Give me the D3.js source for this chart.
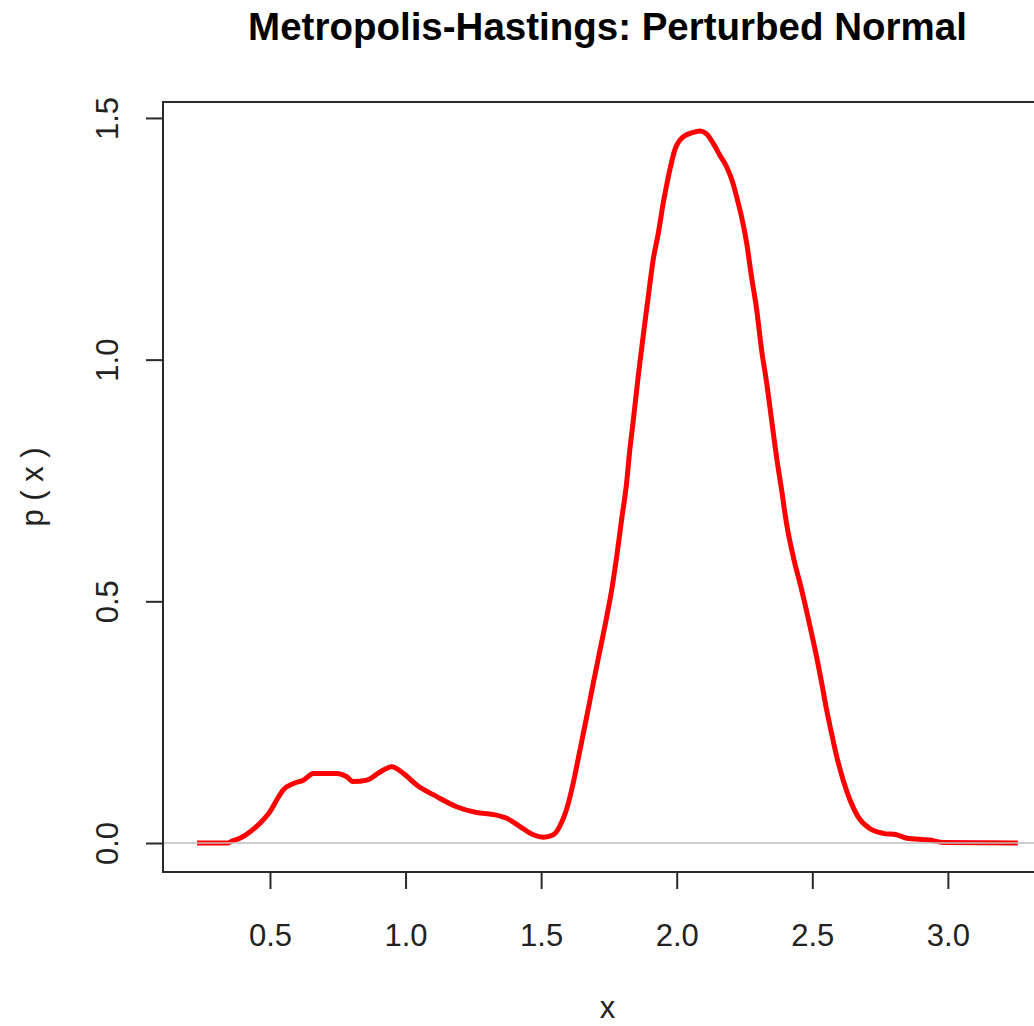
<!DOCTYPE html>
<html>
<head>
<meta charset="utf-8">
<script src="https://cdn.jsdelivr.net/npm/d3@7/dist/d3.min.js"></script>
<style>
  html, body { margin: 0; padding: 0; background: #fff; overflow: hidden; }
  svg { display: block; }
  text { font-family: "Liberation Sans", Arial, sans-serif; }
</style>
</head>
<body>
<svg id="chart" width="1034" height="1026"></svg>
<script>
// ---- Data ----
const xValues = [0.231, 0.345, 0.360, 0.389, 0.426, 0.463, 0.500, 0.525, 0.549, 0.586,
  0.623, 0.660, 0.746, 0.783, 0.807, 0.857, 0.906, 0.949, 0.992, 1.041,
  1.115, 1.188, 1.262, 1.323, 1.373, 1.422, 1.471, 1.508, 1.545, 1.569,
  1.594, 1.618, 1.643, 1.668, 1.692, 1.717, 1.742, 1.760, 1.778, 1.797,
  1.815, 1.827, 1.840, 1.858, 1.876, 1.895, 1.913, 1.932, 1.950, 1.969,
  1.993, 2.024, 2.055, 2.086, 2.110, 2.135, 2.159, 2.184, 2.208, 2.221,
  2.239, 2.258, 2.276, 2.295, 2.313, 2.332, 2.350, 2.368, 2.387, 2.405,
  2.430, 2.461, 2.492, 2.516, 2.535, 2.553, 2.571, 2.590, 2.614, 2.639,
  2.669, 2.712, 2.762, 2.811, 2.848, 2.934, 2.983, 3.258];
const density = [0.000, 0.000, 0.004, 0.010, 0.023, 0.041, 0.065, 0.089, 0.110, 0.123,
  0.130, 0.144, 0.144, 0.137, 0.127, 0.130, 0.147, 0.158, 0.144, 0.120,
  0.096, 0.075, 0.063, 0.059, 0.051, 0.034, 0.017, 0.012, 0.017, 0.035,
  0.070, 0.123, 0.192, 0.261, 0.330, 0.399, 0.468, 0.523, 0.590, 0.670,
  0.744, 0.813, 0.875, 0.965, 1.047, 1.130, 1.206, 1.261, 1.323, 1.378,
  1.434, 1.461, 1.469, 1.473, 1.467, 1.447, 1.423, 1.399, 1.364, 1.337,
  1.296, 1.241, 1.171, 1.103, 1.020, 0.951, 0.875, 0.799, 0.730, 0.661,
  0.592, 0.523, 0.447, 0.385, 0.330, 0.275, 0.227, 0.179, 0.130, 0.089,
  0.054, 0.030, 0.020, 0.017, 0.010, 0.006, 0.001, 0.000];
const xTicks = [0.5, 1.0, 1.5, 2.0, 2.5, 3.0];
const yTicks = [0.0, 0.5, 1.0, 1.5];
const titleText = "Metropolis-Hastings: Perturbed Normal";
const xLabel = "x";
const yLabel = "p ( x )";

// ---- Layout ----
const plot = { left: 163, top: 102, right: 1052, bottom: 872 };
const svg = d3.select("#chart");

const x = d3.scaleLinear().domain([0.1055, 3.384]).range([plot.left, plot.right]);
const y = d3.scaleLinear().domain([-0.06, 1.533]).range([plot.bottom, plot.top]);

// curve
const pts = xValues.map((v, i) => [v, density[i]]);
const line = d3.line().x(d => x(d[0])).y(d => y(d[1])).curve(d3.curveMonotoneX);
svg.append("path")
  .datum(pts)
  .attr("d", line)
  .attr("fill", "none")
  .attr("stroke", "#ff0000")
  .attr("stroke-width", 5)
  .attr("stroke-linejoin", "round")
  .attr("stroke-linecap", "butt");

// horizontal reference line at 0 (drawn on top, as in the original)
svg.append("line")
  .attr("x1", plot.left).attr("x2", plot.right)
  .attr("y1", y(0)).attr("y2", y(0))
  .attr("stroke", "#bebebe")
  .attr("stroke-width", 1.6);

// box
svg.append("rect")
  .attr("x", plot.left).attr("y", plot.top)
  .attr("width", plot.right - plot.left).attr("height", plot.bottom - plot.top)
  .attr("fill", "none").attr("stroke", "#2a2a2a").attr("stroke-width", 2);

// axes
const xAxis = d3.axisBottom(x).tickValues(xTicks).tickFormat(d3.format(".1f"))
  .tickSizeInner(17).tickSizeOuter(0).tickPadding(32);
const gx = svg.append("g").attr("transform", `translate(0,${plot.bottom})`).call(xAxis);
gx.select(".domain").remove();
gx.selectAll(".tick line").attr("stroke", "#2a2a2a").attr("stroke-width", 2);
gx.selectAll(".tick text")
  .attr("font-size", 31).attr("fill", "#222")
  .attr("font-family", "Liberation Sans, Arial, sans-serif")
  .attr("dy", null).attr("y", 74);

const yAxis = d3.axisLeft(y).tickValues(yTicks).tickFormat(d3.format(".1f"))
  .tickSizeInner(17).tickSizeOuter(0);
const gy = svg.append("g").attr("transform", `translate(${plot.left},0)`).call(yAxis);
gy.select(".domain").remove();
gy.selectAll(".tick line").attr("stroke", "#2a2a2a").attr("stroke-width", 2);
gy.selectAll(".tick text")
  .attr("font-size", 31).attr("fill", "#222")
  .attr("font-family", "Liberation Sans, Arial, sans-serif")
  .attr("x", null).attr("dy", null)
  .attr("text-anchor", "middle")
  .attr("transform", "translate(-45,0) rotate(-90)");

// title
svg.append("text")
  .attr("x", (plot.left + plot.right) / 2).attr("y", 40)
  .attr("text-anchor", "middle")
  .attr("font-size", 38.5).attr("font-weight", "bold").attr("fill", "#000")
  .text(titleText);

// axis labels
svg.append("text")
  .attr("x", (plot.left + plot.right) / 2).attr("y", 1018)
  .attr("text-anchor", "middle")
  .attr("font-size", 31).attr("fill", "#222")
  .text(xLabel);

svg.append("text")
  .attr("transform", `translate(43,${(plot.top + plot.bottom) / 2}) rotate(-90)`)
  .attr("text-anchor", "middle")
  .attr("font-size", 31).attr("fill", "#222")
  .text(yLabel);
</script>
</body>
</html>
